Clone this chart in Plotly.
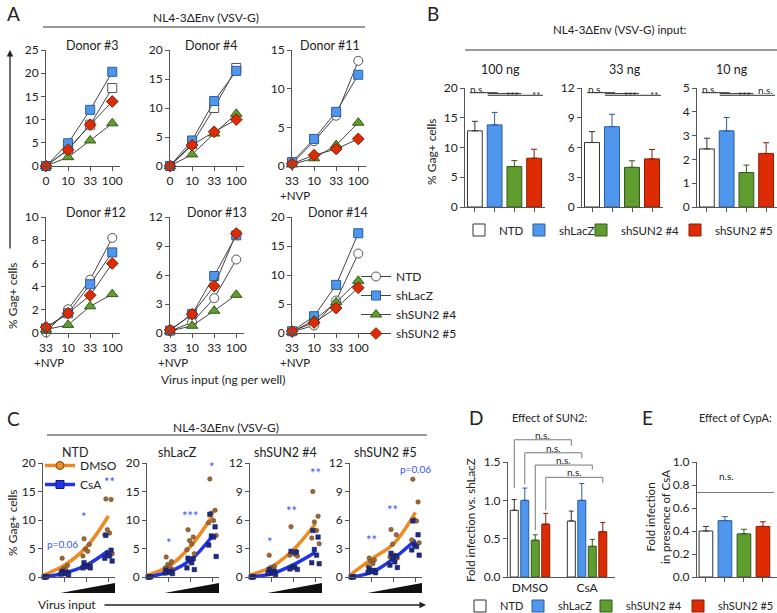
import plotly.graph_objects as go

W, H = 777, 613
FONT = "Lato, 'Noto Sans', 'DejaVu Sans', sans-serif"
TXT = "#222222"

# ------------------------------------------------------------------ data
GROUPS = ["NTD", "shLacZ", "shSUN2 #4", "shSUN2 #5"]

# Panel A: % Gag+ cells per donor, virus input (ng per well)
A_DONORS = ["Donor #3", "Donor #4", "Donor #11", "Donor #12", "Donor #13", "Donor #14"]
A_DOSES = ["0", "10", "33", "100"]
A_DOSES_NVP = ["33", "10", "33", "100"]
A_NVP_NOTE = "+NVP"
A_NTD = [[0.0, 3.6, 8.9, 16.8], [0.0, 3.8, 10.0, 16.9], [0.3, 3.2, 6.5, 13.6],
         [0.05, 2.05, 4.6, 8.2], [0.2, 1.1, 3.6, 7.6], [0.2, 1.3, 5.6, 13.7]]
A_SHLACZ = [[0.0, 4.9, 12.1, 20.3], [0.0, 4.4, 11.2, 16.4], [0.5, 3.5, 7.0, 11.8],
            [0.4, 1.7, 4.2, 6.95], [0.25, 1.95, 5.9, 10.1], [0.3, 2.9, 8.3, 17.2]]
A_SH4 = [[0.0, 1.9, 5.5, 9.2], [0.0, 2.0, 5.6, 9.0], [0.2, 1.0, 2.7, 5.6],
         [0.3, 0.7, 2.3, 3.35], [0.2, 0.75, 2.3, 3.95], [0.2, 2.2, 5.3, 9.0]]
A_SH5 = [[0.0, 3.5, 8.9, 13.9], [0.0, 3.6, 5.9, 8.0], [0.3, 1.4, 2.2, 3.5],
         [0.5, 1.7, 3.25, 6.0], [0.3, 1.95, 4.85, 10.3], [0.3, 1.8, 4.3, 7.8]]
A_YMAX = [25, 20, 15, 10, 12, 20]
A_DTICK = [5, 5, 5, 2, 3, 5]

# Panel B: mean +/- SEM % Gag+ cells
B_INPUTS = ["100 ng", "33 ng", "10 ng"]
B_MEAN = [[12.8, 13.8, 6.8, 8.2], [6.5, 8.1, 4.0, 4.85], [2.44, 3.2, 1.45, 2.25]]
B_SEM = [[1.6, 2.1, 1.0, 1.5], [1.1, 1.25, 0.66, 0.95], [0.45, 0.56, 0.31, 0.45]]
B_YMAX = [20, 12, 5]
B_DTICK = [5, 3, 1]
B_SIG = [["n.s.", "***", "**"], ["n.s.", "***", "**"], ["n.s.", "***", "n.s."]]

# Panel C: individual donors, DMSO vs CsA, per virus input step
C_PANELS = ["NTD", "shLacZ", "shSUN2 #4", "shSUN2 #5"]
C_DMSO = [
    [[0.1, 0.05, 0.1, 0.0, 0.05, 0.1], [3.3, 2.0, 1.5, 1.2, 0.9, 0.7],
     [6.7, 5.7, 4.9, 4.5, 3.7, 2.2], [13.7, 13.6, 8.3, 7.7, 7.4, 4.1]],
    [[0.1, 0.05, 0.1, 0.0, 0.05, 0.1], [3.5, 2.7, 2.2, 1.9, 1.6, 1.3],
     [8.3, 7.0, 6.4, 5.8, 4.8, 4.1], [17.2, 11.7, 11.2, 9.9, 9.5, 7.3]],
    [[0.05, 0.02, 0.05, 0.0, 0.02, 0.05], [2.3, 1.1, 1.0, 0.8, 0.6, 0.4],
     [5.3, 2.7, 2.6, 2.4, 2.3, 2.2], [9.0, 6.4, 5.8, 4.9, 4.1, 3.5]],
    [[0.05, 0.02, 0.05, 0.0, 0.02, 0.05], [2.0, 1.8, 1.6, 1.4, 1.1, 0.6],
     [5.0, 4.45, 3.45, 2.3, 2.1, 2.0], [10.3, 7.9, 6.05, 5.9, 3.9, 3.6]],
]
C_CSA = [
    [[0.0, 0.0, 0.05, 0.0, 0.0, 0.05], [1.0, 0.8, 0.7, 0.6, 0.5, 0.4],
     [2.5, 2.0, 1.9, 1.8, 1.6, 1.6], [7.3, 4.7, 4.1, 3.7, 3.3, 2.8]],
    [[0.0, 0.0, 0.05, 0.0, 0.0, 0.05], [1.2, 1.0, 0.9, 0.8, 0.7, 0.6],
     [3.3, 3.2, 3.0, 2.5, 1.6, 1.3], [11.0, 8.8, 7.2, 7.0, 5.6, 3.6]],
    [[0.0, 0.0, 0.02, 0.0, 0.0, 0.02], [0.8, 0.6, 0.5, 0.4, 0.35, 0.25],
     [2.7, 2.6, 1.1, 1.0, 0.85, 0.8], [4.9, 4.2, 2.9, 2.3, 1.5, 1.4]],
    [[0.0, 0.0, 0.02, 0.0, 0.0, 0.02], [0.9, 0.7, 0.65, 0.6, 0.5, 0.45],
     [2.5, 2.2, 2.0, 1.6, 1.25, 1.0], [5.9, 4.45, 3.4, 3.2, 2.85, 2.3]],
]
C_FIT_DMSO = [[0.3, 2.1, 5.3, 10.7], [0.3, 1.9, 5.4, 10.8], [0.2, 1.1, 2.9, 5.6], [0.2, 1.9, 3.5, 6.8]]
C_FIT_CSA = [[0.0, 0.7, 2.1, 4.6], [0.0, 0.9, 3.0, 7.2], [0.0, 0.35, 1.3, 2.6], [0.0, 0.5, 1.95, 3.9]]
C_YMAX = [20, 20, 12, 12]
C_DTICK = [5, 5, 3, 3]
C_SIG = [
    [(0.9, 5.8, "p=0.06"), (1.9, 10.5, "*"), (3.05, 16.6, "**")],
    [(1.0, 6.0, "*"), (2.0, 10.7, "***"), (3.0, 19.3, "*")],
    [(0.9, 3.7, "*"), (1.9, 7.0, "**"), (3.0, 11.0, "**")],
    [(1.0, 3.9, "**"), (1.95, 7.05, "**"), (3.0, 11.4, "p=0.06")],
]

# Panel D: fold infection vs shLacZ
D_CONDITIONS = ["DMSO", "CsA"]
D_MEAN = [[0.87, 1.0, 0.48, 0.69], [0.73, 1.0, 0.40, 0.59]]
D_SEM = [[0.14, 0.16, 0.07, 0.14], [0.13, 0.22, 0.09, 0.12]]
# Panel E: fold infection in presence of CsA
E_MEAN = [0.40, 0.49, 0.375, 0.44]
E_SEM = [0.04, 0.035, 0.04, 0.04]

# ------------------------------------------------------------------ styles
FILL = ["#ffffff", "#4f97ee", "#5f9e2e", "#dd2c04"]
EDGE = ["#333333", "#2c5c9c", "#35591a", "#8c1c04"]
A_SYM = ["circle", "square", "triangle-up", "diamond"]
ORANGE, BLUE, STAR = "#ee8a22", "#2233ee", "#3a55f0"
AXC = "#555555"
TS = 12  # tick font size


def px(x):
    return x / W


def py(y):
    return 1 - y / H


layout = dict(
    width=W, height=H, margin=dict(l=0, r=0, t=0, b=0, autoexpand=False),
    paper_bgcolor="white", plot_bgcolor="white", barmode="overlay",
    font=dict(family=FONT, size=12, color=TXT), showlegend=True,
)
AX = {}


def add_axes(i, x0, x1, ytop, ybot, xr, yr, dtick, xtickvals=None, xticktext=None,
             xticks="outside", yfmt=None, tsize=TS):
    sx = "" if i == 1 else str(i)
    AX[i] = dict(x=(px(x0), px(x1)), y=(py(ybot), py(ytop)), xr=xr, yr=yr)
    layout["xaxis" + sx] = dict(
        domain=[px(x0), px(x1)], anchor="y" + sx, range=xr, showline=True,
        linecolor=AXC, linewidth=1, ticks=xticks, ticklen=4, tickcolor=AXC,
        showgrid=False, zeroline=False, tickvals=xtickvals, tickangle=0,
        ticktext=xticktext if xticktext is not None else [""] * len(xtickvals or []),
        tickfont=dict(size=tsize, color=TXT), fixedrange=True)
    layout["yaxis" + sx] = dict(
        domain=[py(ybot), py(ytop)], anchor="x" + sx, range=yr, showline=True,
        linecolor=AXC, linewidth=1, ticks="outside", ticklen=4, tickcolor=AXC,
        showgrid=False, zeroline=False, tick0=0, dtick=dtick, tickformat=yfmt,
        tickfont=dict(size=tsize, color=TXT), fixedrange=True)


def to_paper(i, xv, yv):
    a = AX[i]
    fx = a["x"][0] + (xv - a["xr"][0]) / (a["xr"][1] - a["xr"][0]) * (a["x"][1] - a["x"][0])
    fy = a["y"][0] + (yv - a["yr"][0]) / (a["yr"][1] - a["yr"][0]) * (a["y"][1] - a["y"][0])
    return fx, fy


def refs(i):
    sx = "" if i == 1 else str(i)
    return "x" + sx, "y" + sx


annotations, shapes = [], []


def ann(x, y, text, size=12, color=TXT, xanchor="center", yanchor="middle", angle=0):
    annotations.append(dict(x=px(x), y=py(y), xref="paper", yref="paper", text=text,
                            showarrow=False, xanchor=xanchor, yanchor=yanchor,
                            textangle=angle, font=dict(size=size, color=color)))


def hline(x0, x1, y, color="#333333", width=1):
    shapes.append(dict(type="line", xref="paper", yref="paper", x0=px(x0), x1=px(x1),
                       y0=py(y), y1=py(y), line=dict(color=color, width=width)))


def arrow(x_head, y_head, x_tail, y_tail):
    annotations.append(dict(x=px(x_head), y=py(y_head), ax=x_tail - x_head, ay=y_tail - y_head,
                            xref="paper", yref="paper", axref="pixel", ayref="pixel", text="",
                            showarrow=True, arrowhead=2, arrowsize=1, arrowwidth=1.3,
                            arrowcolor="#222222"))


fig = go.Figure()

# ------------------------------------------------------------------ panel A
A_POS = [(46, 120, 50, 166), (170, 244, 50, 166), (292, 366, 50, 166),
         (46, 120, 217, 333), (170, 244, 217, 333), (292, 366, 217, 333)]
A_TITLE = [(92, 45), (211, 45), (330, 45), (96, 212), (217, 212), (338, 212)]
A_SERIES = [A_NTD, A_SHLACZ, A_SH4, A_SH5]
for d in range(6):
    i = d + 1
    x0, x1, yt, yb = A_POS[d]
    add_axes(i, x0, x1, yt, yb, [0, 3.35], [0, A_YMAX[d]], A_DTICK[d],
             xtickvals=[0, 1, 2, 3], xticktext=A_DOSES if d < 2 else A_DOSES_NVP)
    xa, ya = refs(i)
    for g in range(4):
        sym = A_SYM[g]
        if g == 0 and d < 2:
            sym = "square"
        fig.add_trace(go.Scatter(
            x=[0, 1, 2, 3], y=A_SERIES[g][d], xaxis=xa, yaxis=ya, mode="lines+markers",
            name=GROUPS[g], legend="legend", showlegend=(d == 2), cliponaxis=False,
            line=dict(color="#444444", width=1),
            marker=dict(symbol=sym, size=10 if g == 2 else 9, color=FILL[g],
                        line=dict(color=EDGE[g] if g else "#555555", width=1))))
    ann(A_TITLE[d][0], A_TITLE[d][1], A_DONORS[d], size=12.5)
    if d >= 2:
        annotations.append(dict(x=0.15, y=py(yb + 29), xref=xa, yref="paper", text=A_NVP_NOTE,
                                showarrow=False, xanchor="center", yanchor="middle",
                                font=dict(size=11.5, color=TXT)))

ann(13, 13, "A", size=19)
ann(206, 18, "NL4-3ΔEnv (VSV-G)", size=12)
hline(43, 365, 27)
ann(223, 379, "Virus input (ng per well)", size=12)
ann(12, 296, "% Gag+ cells", size=12, angle=-90)
arrow(10, 50, 10, 250)

# ------------------------------------------------------------------ panel B
B_POS = [(465, 545), (582, 663), (697, 777)]
B_TITLE = [500, 625, 732]
for s in range(3):
    i = 7 + s
    add_axes(i, B_POS[s][0], B_POS[s][1], 88, 207, [-0.5, 3.55], [0, B_YMAX[s]], B_DTICK[s],
             xtickvals=[0, 1, 2, 3])
    xa, ya = refs(i)
    for g in range(4):
        fig.add_trace(go.Bar(
            x=[g], y=[B_MEAN[s][g]], width=0.75, xaxis=xa, yaxis=ya, name=GROUPS[g],
            legend="legend%d" % (2 + g), showlegend=(s == 0),
            marker=dict(color=FILL[g], line=dict(color=EDGE[g], width=1)),
            error_y=dict(type="data", array=[B_SEM[s][g]], arrayminus=[0], symmetric=False,
                         color=EDGE[g], thickness=1, width=3)))
    ann(B_TITLE[s], 70, B_INPUTS[s], size=12.5)
    # significance marks (n.s. NTD vs shLacZ; shLacZ vs shSUN2 #4 / #5)
    top = 88
    for (a, b, off) in [(-0.25, 1.15, 4.7), (0.65, 2.35, 5.6), (0.65, 3.45, 7.3)]:
        xa0, _ = to_paper(i, a, 0)
        xa1, _ = to_paper(i, b, 0)
        shapes.append(dict(type="line", xref="paper", yref="paper", x0=xa0, x1=xa1,
                           y0=py(top + off), y1=py(top + off), line=dict(color="#333333", width=1)))
    xns, _ = to_paper(i, 0.15, 0)
    annotations.append(dict(x=xns, y=py(top + 0.5), xref="paper", yref="paper",
                            text=B_SIG[s][0], showarrow=False, xanchor="center", yanchor="middle",
                            font=dict(size=10, color=TXT)))
    for (xe, lab) in [(2.35, B_SIG[s][1]), (3.45, B_SIG[s][2])]:
        xx, _ = to_paper(i, xe, 0)
        ns = lab == "n.s."
        annotations.append(dict(x=xx, y=py(top + (1.5 if ns else 6.5)), xref="paper", yref="paper",
                                text=lab, showarrow=False, xanchor="right", yanchor="middle",
                                font=dict(size=10, color=TXT)))

ann(433, 13, "B", size=19)
ann(620, 30, "NL4-3ΔEnv (VSV-G) input:", size=11.5)
hline(465, 777, 50)
ann(432, 152, "% Gag+ cells", size=12, angle=-90)

# ------------------------------------------------------------------ panel C
C_POS = [(43, 115), (147, 219), (250, 322), (350, 422)]
C_TITLE = [75, 177, 285, 385]
JIT = [-0.12, 0.12, -0.05, 0.05, -0.17, 0.17]
for p in range(4):
    i = 10 + p
    add_axes(i, C_POS[p][0], C_POS[p][1], 463, 577, [0, 3.3], [0, C_YMAX[p]], C_DTICK[p],
             xtickvals=[1, 2, 3])
    xa, ya = refs(i)
    fig.add_trace(go.Scatter(x=[0, 1, 2, 3], y=C_FIT_DMSO[p], xaxis=xa, yaxis=ya, mode="lines",
                             line=dict(color=ORANGE, width=3.5, shape="spline"),
                             showlegend=False, cliponaxis=False, hoverinfo="skip"))
    fig.add_trace(go.Scatter(x=[0, 1, 2, 3], y=C_FIT_CSA[p], xaxis=xa, yaxis=ya, mode="lines",
                             line=dict(color=BLUE, width=3.5, shape="spline"),
                             showlegend=False, cliponaxis=False, hoverinfo="skip"))
    for vals, sym, col, edge in [(C_DMSO[p], "circle", "#9c6834", "#5e3c1c"),
                                 (C_CSA[p], "square", "#1d2b86", "#101a5a")]:
        xs, ys = [], []
        for dose in range(4):
            for k, v in enumerate(vals[dose]):
                xs.append(dose + JIT[k])
                ys.append(v)
        fig.add_trace(go.Scatter(x=xs, y=ys, xaxis=xa, yaxis=ya, mode="markers",
                                 marker=dict(symbol=sym, size=4.5, color=col,
                                             line=dict(color=edge, width=0.5)),
                                 showlegend=False, cliponaxis=False))
    for (sxv, syv, lab) in C_SIG[p]:
        small = lab.startswith("p")
        annotations.append(dict(x=sxv, y=syv, xref=xa, yref=ya, text=lab, showarrow=False,
                                xanchor="center", yanchor="middle",
                                font=dict(size=10 if small else 13, color=STAR)))
    ann(C_TITLE[p], 452, C_PANELS[p], size=12.5)
    # increasing-input wedge under the x axis
    wx0, _ = to_paper(i, 0.8, 0)
    wx1, _ = to_paper(i, 3.3, 0)
    shapes.append(dict(type="path", xref="paper", yref="paper",
                       path="M %f %f L %f %f L %f %f Z" % (wx0, py(593), wx1, py(593), wx1, py(583)),
                       fillcolor="#111111", line=dict(width=0)))

# legend entries for panel C
fig.add_trace(go.Scatter(x=[None], y=[None], xaxis="x10", yaxis="y10", mode="lines+markers",
                         name="DMSO", legend="legend6",
                         line=dict(color=ORANGE, width=3.5),
                         marker=dict(symbol="circle", size=8, color=ORANGE,
                                     line=dict(color="#7a4a1a", width=1))))
fig.add_trace(go.Scatter(x=[None], y=[None], xaxis="x10", yaxis="y10", mode="lines+markers",
                         name="CsA", legend="legend6",
                         line=dict(color=BLUE, width=3.5),
                         marker=dict(symbol="square", size=8, color=BLUE,
                                     line=dict(color="#101a6a", width=1))))

ann(13, 418, "C", size=19)
ann(226, 427, "NL4-3ΔEnv (VSV-G)", size=12)
hline(47, 427, 435)
ann(12, 523, "% Gag+ cells", size=12, angle=-90)
ann(67, 604, "Virus input", size=12)
arrow(426, 605, 103, 605)

# ------------------------------------------------------------------ panel D
D_OFF = 0.184
add_axes(14, 508, 615, 462, 577, [-0.386, 1.49], [0, 1.5], 0.5, xtickvals=[0, 1],
         xticktext=D_CONDITIONS, xticks="", yfmt=".1f")
for g in range(4):
    fig.add_trace(go.Bar(
        x=[c + (g - 1.5) * D_OFF for c in range(2)], y=[D_MEAN[0][g], D_MEAN[1][g]],
        width=0.14, xaxis="x14", yaxis="y14", name=GROUPS[g], legend="legend%d" % (7 + g),
        marker=dict(color=FILL[g], line=dict(color=EDGE[g], width=1)),
        error_y=dict(type="data", array=[D_SEM[0][g], D_SEM[1][g]], arrayminus=[0, 0],
                     symmetric=False, color=EDGE[g], thickness=1, width=2.5)))
# comparison brackets DMSO vs CsA for each group (n.s.)
D_BRACKET = [(1.79, 1.16, 1.71), (1.62, 1.21, 1.55), (1.46, 0.61, 1.40), (1.30, 0.87, 1.23)]
for g in range(4):
    ytop, yl, yr_ = D_BRACKET[g]
    xl, pyt = to_paper(14, 0 + (g - 1.5) * D_OFF, ytop)
    xr, _ = to_paper(14, 1 + (g - 1.5) * D_OFF, ytop)
    _, pyl = to_paper(14, 0, yl)
    _, pyr = to_paper(14, 0, yr_)
    shapes.append(dict(type="path", xref="paper", yref="paper",
                       path="M %f %f L %f %f L %f %f L %f %f" % (xl, pyl, xl, pyt, xr, pyt, xr, pyr),
                       line=dict(color="#777777", width=1)))
    annotations.append(dict(x=(xl + xr) / 2, y=pyt + 5 / H, xref="paper", yref="paper",
                            text="n.s.", showarrow=False, xanchor="center", yanchor="middle",
                            font=dict(size=10, color=TXT)))
ann(476, 417, "D", size=19)
ann(550, 417, "Effect of SUN2:", size=11)
ann(470, 520, "Fold infection vs. shLacZ", size=11.5, angle=-90)

# ------------------------------------------------------------------ panel E
add_axes(15, 697, 777, 462, 577, [-0.47, 3.74], [0, 1.0], 0.2, xtickvals=[0, 1, 2, 3], yfmt=".1f")
for g in range(4):
    fig.add_trace(go.Bar(
        x=[g], y=[E_MEAN[g]], width=0.72, xaxis="x15", yaxis="y15", name=GROUPS[g],
        showlegend=False, marker=dict(color=FILL[g], line=dict(color=EDGE[g], width=1)),
        error_y=dict(type="data", array=[E_SEM[g]], arrayminus=[0], symmetric=False,
                     color=EDGE[g], thickness=1, width=3)))
_, ens = to_paper(15, 0, 0.735)
shapes.append(dict(type="line", xref="paper", yref="paper", x0=px(697), x1=px(774),
                   y0=ens, y1=ens, line=dict(color="#777777", width=1)))
annotations.append(dict(x=px(736), y=ens + 8 / H, xref="paper", yref="paper", text="n.s.",
                        showarrow=False, font=dict(size=10, color=TXT)))
ann(647, 417, "E", size=19)
ann(735, 417, "Effect of CypA:", size=11)
ann(658, 517, "Fold infection<br>in presence of CsA", size=11.5, angle=-90)

# ------------------------------------------------------------------ legends
LEG = dict(bgcolor="rgba(0,0,0,0)", borderwidth=0, font=dict(size=11.5, color=TXT),
           itemclick=False, itemdoubleclick=False)
layout["legend"] = dict(LEG, x=px(356), y=py(305), xanchor="left", yanchor="middle",
                        orientation="v", tracegroupgap=0, font=dict(size=12, color=TXT))
B_LEG_TEXT = [497, 557, 619, 713]
for g in range(4):
    layout["legend%d" % (2 + g)] = dict(LEG, x=px(B_LEG_TEXT[g] - 38), y=py(230),
                                       xanchor="left", yanchor="middle", orientation="h")
layout["legend6"] = dict(LEG, x=px(40), y=py(475), xanchor="left", yanchor="middle",
                         orientation="v", tracegroupgap=0, font=dict(size=12, color=TXT))
D_LEG_TEXT = [500, 558, 626, 718]
for g in range(4):
    layout["legend%d" % (7 + g)] = dict(LEG, x=px(D_LEG_TEXT[g] - 40), y=py(606),
                                       xanchor="left", yanchor="middle", orientation="h",
                                       font=dict(size=11, color=TXT))

layout["annotations"] = annotations
layout["shapes"] = shapes
fig.update_layout(layout)
fig.write_html("out.html", config={"displayModeBar": False},
               post_script="document.body.style.margin='0px';"
                           "document.body.style.overflow='hidden';")
